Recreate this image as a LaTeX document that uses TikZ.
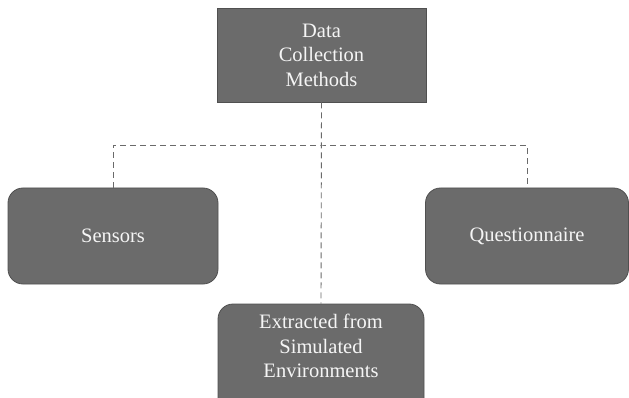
\documentclass[tikz,border=0pt]{standalone}
\usepackage{fontspec}
\setmainfont{Liberation Serif}
\usetikzlibrary{positioning}
\begin{document}
\begin{tikzpicture}[x=1pt,y=-1pt,
  boxtext/.style={text=white!96!black,align=center,
    font=\fontsize{20.5}{24.5}\selectfont},
  boxfill/.style={boxtext,fill=boxgray,draw=edgegray,line width=0.8pt,inner sep=0pt},
  headbox/.style={boxfill,minimum width=209pt,minimum height=94pt},
  leafbox/.style={boxfill,rounded corners=15pt,minimum height=96pt},
  link/.style={draw=linkgray,line width=0.9pt,dash pattern=on 6pt off 4pt}]
\definecolor{boxgray}{HTML}{6B6B6B}
\definecolor{edgegray}{HTML}{505050}
\definecolor{linkgray}{HTML}{6A6A6A}
\useasboundingbox (0,0) rectangle (629,398);

% root and the three data sources
\node[headbox] (root) at (321.5,55) {Data\\Collection\\Methods};
\node[leafbox,minimum width=210pt] (sens) at (113,236) {Sensors};
\node[leafbox,minimum width=203pt] (ques) at (527,236) {Questionnaire};
\node[leafbox,minimum width=206pt,minimum height=110pt] (simu) at (321,359) {};
\node[boxtext,anchor=north] (simutext) at (321,311) {Extracted from\\Simulated\\Environments};

% dashed connectors
\coordinate (bar) at (321,145);
\draw[link] (root.south) -- (simu.north);
\draw[link] (sens.north) |- (bar) -| (ques.north);
\end{tikzpicture}
\end{document}
